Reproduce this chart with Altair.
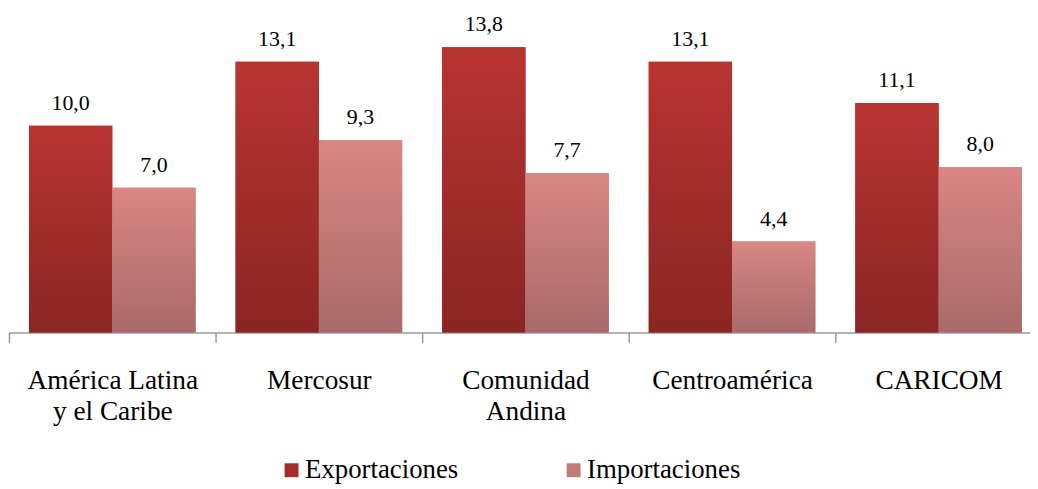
import altair as alt
import pandas as pd

categorias = ["América Latina\ny el Caribe", "Mercosur", "Comunidad\nAndina", "Centroamérica", "CARICOM"]
series = ["Exportaciones", "Importaciones"]
exportaciones = [10.0, 13.1, 13.8, 13.1, 11.1]
importaciones = [7.0, 9.3, 7.7, 4.4, 8.0]

rows = []
for c, e, i in zip(categorias, exportaciones, importaciones):
    rows.append({"categoria": c, "serie": series[0], "valor": e})
    rows.append({"categoria": c, "serie": series[1], "valor": i})
df = pd.DataFrame(rows)
df["etiqueta"] = df["valor"].map(lambda v: f"{v:.1f}".replace(".", ","))

x_enc = alt.X("categoria:N", sort=categorias,
              scale=alt.Scale(domain=categorias, paddingInner=0, paddingOuter=0),
              axis=alt.Axis(title=None, labelAngle=0, tickBand="extent", tickSize=10,
                            tickColor="#9a9a9a", domainColor="#9a9a9a", domainWidth=1.5, tickWidth=1.5,
                            labelFont="Liberation Serif", labelFontSize=27.5, labelColor="#000000",
                            labelPadding=24, labelLineHeight=32, labelLimit=0,
                            labelExpr="split(datum.label, '\\n')", grid=False))
xo_enc = alt.XOffset("serie:N", scale=alt.Scale(domain=series, paddingOuter=0.24, paddingInner=0))
y_enc = alt.Y("valor:Q", scale=alt.Scale(domain=[0, 15.625], nice=False, zero=True), axis=None)

base = alt.Chart(df)

solid = base.mark_bar().encode(
    x=x_enc, xOffset=xo_enc, y=y_enc,
    color=alt.Color("serie:N", scale=alt.Scale(domain=series, range=["#a42d2b", "#c27a78"]),
                    legend=alt.Legend(title=None, orient="none", legendX=271, legendY=450,
                                      direction="horizontal", symbolType="square", symbolSize=196,
                                      symbolStrokeWidth=0, labelFont="Liberation Serif",
                                      labelFontSize=27, labelColor="#000000", labelOffset=0,
                                      columnPadding=102, padding=0, labelLimit=0))
)

grad_exp = alt.LinearGradient(gradient="linear", x1=0, x2=0, y1=0, y2=1,
                              stops=[alt.GradientStop(color="#b83431", offset=0),
                                     alt.GradientStop(color="#8a2524", offset=1)])
grad_imp = alt.LinearGradient(gradient="linear", x1=0, x2=0, y1=0, y2=1,
                              stops=[alt.GradientStop(color="#d98783", offset=0),
                                     alt.GradientStop(color="#a86a6a", offset=1)])

exp_bars = base.transform_filter(alt.datum.serie == series[0]).mark_bar(color=grad_exp).encode(
    x=x_enc, xOffset=xo_enc, y=y_enc)
imp_bars = base.transform_filter(alt.datum.serie == series[1]).mark_bar(color=grad_imp).encode(
    x=x_enc, xOffset=xo_enc, y=y_enc)

labels = base.mark_text(font="Liberation Serif", fontSize=22, color="#000000", dy=-16,
                        baseline="alphabetic").encode(
    x=x_enc, xOffset=xo_enc, y=y_enc, text="etiqueta:N")

chart = alt.layer(solid, exp_bars, imp_bars, labels).properties(
    width=1040, height=325,
    autosize=alt.AutoSizeParams(type="none"),
    padding={"left": 1, "top": 0, "right": -12, "bottom": 157},
).configure_view(stroke=None)

chart.save("out.html", embed_options={"renderer": "svg", "actions": False})
